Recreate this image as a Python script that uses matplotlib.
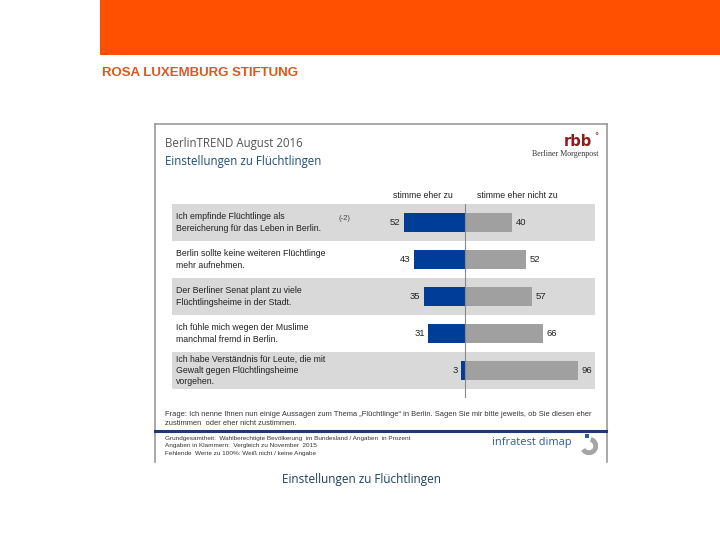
import matplotlib
matplotlib.use("Agg")
import matplotlib.pyplot as plt
from matplotlib.patches import Rectangle, Arc

statements = [
    "Ich empfinde Flüchtlinge als\nBereicherung für das Leben in Berlin.",
    "Berlin sollte keine weiteren Flüchtlinge\nmehr aufnehmen.",
    "Der Berliner Senat plant zu viele\nFlüchtlingsheime in der Stadt.",
    "Ich fühle mich wegen der Muslime\nmanchmal fremd in Berlin.",
    "Ich habe Verständnis für Leute, die mit\nGewalt gegen Flüchtlingsheime\nvorgehen.",
]
agree = [52, 43, 35, 31, 3]
disagree = [40, 52, 57, 66, 96]
change = ["(-2)", "", "", "", ""]

W, H = 720, 540
fig = plt.figure(figsize=(7.2, 5.4), dpi=100)
fig.patch.set_facecolor("white")

def fx(x):
    return x / W

def fy(y):
    return 1 - y / H

# orange header band
fig.add_artist(Rectangle((fx(100), fy(55)), fx(720) - fx(100), 55 / H,
                         transform=fig.transFigure, color="#ff4f00", lw=0))
fig.text(fx(102), fy(73), "ROSA LUXEMBURG STIFTUNG", color="#e0561b",
         fontsize=9.5, fontweight="bold", va="center", ha="left",
         family="Liberation Sans")

# chart box border (left, top, right)
bx0, bx1, by0, by1 = 155, 607, 124, 462
for xs, ys in [((bx0, bx0), (by0, by1)), ((bx0, bx1), (by0, by0)), ((bx1, bx1), (by0, by1))]:
    fig.add_artist(plt.Line2D([fx(xs[0]), fx(xs[1])], [fy(ys[0]), fy(ys[1])],
                              transform=fig.transFigure, color="#9a9a9a", lw=1.2))

fig.text(fx(165), fy(143), "BerlinTREND August 2016", color="#555555",
         fontsize=8.3, va="center", ha="left", family="Open Sans")
fig.text(fx(165), fy(162), "Einstellungen zu Flüchtlingen", color="#1f4e79",
         fontsize=8.3, va="center", ha="left", family="Open Sans")

# rbb / Berliner Morgenpost logo
fig.text(fx(592), fy(142), "rbb", color="#8c1c1c", fontsize=10.5, fontweight="bold",
         va="center", ha="right", family="DejaVu Sans")
fig.text(fx(594), fy(137), "°", color="#8c1c1c", fontsize=6, va="center", ha="left")
fig.text(fx(598), fy(154), "Berliner Morgenpost", color="#333333", fontsize=5.8,
         va="center", ha="right", family="Liberation Serif")

# column headers
fig.text(fx(423), fy(196), "stimme eher zu", fontsize=6.3, color="#222222",
         ha="center", va="center", family="Liberation Sans")
fig.text(fx(517), fy(196), "stimme eher nicht zu", fontsize=6.3, color="#222222",
         ha="center", va="center", family="Liberation Sans")

# bar axes
scale = 1.18  # px per percent
cx = 465
ax_l, ax_r, ax_t, ax_b = 172, 595, 204, 398
row_h = 37.0
ax = fig.add_axes([fx(ax_l), fy(ax_b), (ax_r - ax_l) / W, (ax_b - ax_t) / H])
ax.set_xlim((ax_l - cx) / scale, (ax_r - cx) / scale)
n = len(statements)
extra = (ax_b - ax_t - n * row_h) / row_h
ax.set_ylim(n - 0.5 + extra, -0.5)
ax.axis("off")

for i in range(n):
    if i % 2 == 0:
        ax.axhspan(i - 0.5, i + 0.5, color="#d9d9d9", lw=0, zorder=0)

ax.barh(range(n), [-a for a in agree], height=0.49, color="#003d99", zorder=2)
ax.barh(range(n), disagree, height=0.49, color="#a0a0a0", zorder=2)
ax.axvline(0, color="#8a8a8a", lw=0.8, zorder=3)

x_text = (176 - cx) / scale
for i, s in enumerate(statements):
    ax.text(x_text, i, s, fontsize=6.3, color="#222222", ha="left", va="center",
            linespacing=1.35, family="Liberation Sans")
    ax.text(-agree[i] - 3, i, str(agree[i]), fontsize=6.8, color="#222222",
            ha="right", va="center", family="Liberation Sans")
    ax.text(disagree[i] + 3, i, str(disagree[i]), fontsize=6.8, color="#222222",
            ha="left", va="center", family="Liberation Sans")
    if change[i]:
        ax.text((344 - cx) / scale, i - 0.1, change[i], fontsize=5.5, color="#444444",
                ha="center", va="center", family="Liberation Sans")

# question text
fig.text(fx(165), fy(419),
         "Frage: Ich nenne Ihnen nun einige Aussagen zum Thema „Flüchtlinge“ in Berlin. Sagen Sie mir bitte jeweils, ob Sie diesen eher\nzustimmen  oder eher nicht zustimmen.",
         fontsize=5.4, color="#333333", ha="left", va="center", linespacing=1.5,
         family="Liberation Sans")

# blue separator
fig.add_artist(plt.Line2D([fx(155), fx(606)], [fy(431), fy(431)],
                          transform=fig.transFigure, color="#1f3a6e", lw=2.2))

fig.text(fx(165), fy(446),
         "Grundgesamtheit:  Wahlberechtigte Bevölkerung  im Bundesland / Angaben  in Prozent\nAngaben in Klammern:  Vergleich zu November  2015\nFehlende  Werte zu 100%: Weiß nicht / keine Angabe",
         fontsize=4.6, color="#333333", ha="left", va="center", linespacing=1.55,
         family="Liberation Sans")

fig.text(fx(572), fy(443), "infratest dimap", fontsize=7.9, color="#2a5b9c",
         ha="right", va="center", family="Open Sans")
# dimap logo
fig.add_artist(Rectangle((fx(585), fy(438)), 4 / W, 4 / H, transform=fig.transFigure,
                         color="#2a5b9c", lw=0))
logo_ax = fig.add_axes([fx(580), fy(455), 18 / W, 18 / H])
logo_ax.set_xlim(-1, 1)
logo_ax.set_ylim(-1, 1)
logo_ax.axis("off")
logo_ax.add_patch(Arc((0, 0), 1.5, 1.5, theta1=-150, theta2=75, color="#a5a5a5", lw=3.5))

fig.text(fx(282), fy(480), "Einstellungen zu Flüchtlingen", fontsize=8.5,
         color="#1f3f5f", ha="left", va="center", family="Open Sans")

fig.savefig("out.png", dpi=100)
